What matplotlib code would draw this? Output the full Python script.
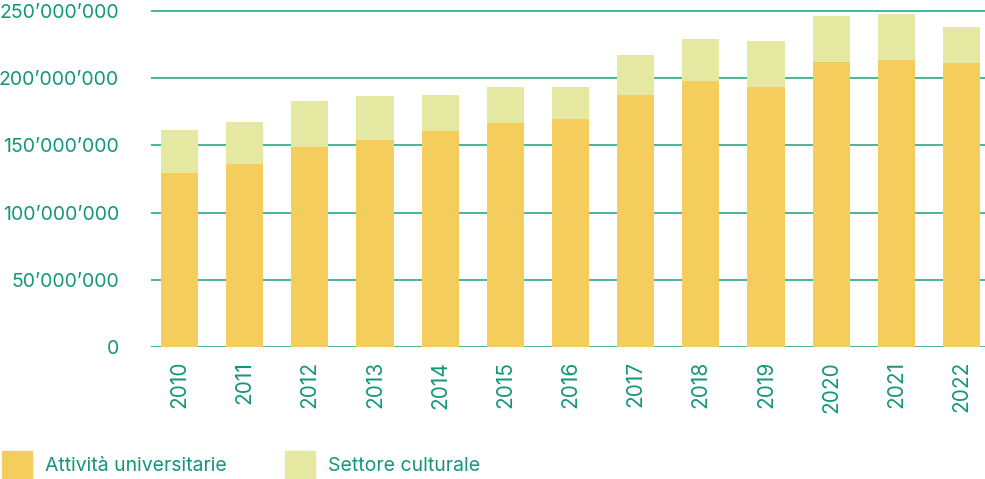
import matplotlib.pyplot as plt
import matplotlib.ticker as mticker
from matplotlib.patches import Rectangle

# Spese per anno (CHF)
anni = ["2010", "2011", "2012", "2013", "2014", "2015", "2016",
        "2017", "2018", "2019", "2020", "2021", "2022"]
universita = [129.5e6, 136.0e6, 148.8e6, 154.0e6, 160.7e6, 166.7e6, 169.6e6,
              187.5e6, 198.0e6, 193.5e6, 212.0e6, 213.5e6, 211.3e6]
cultura = [32.0e6, 31.4e6, 34.2e6, 32.8e6, 26.8e6, 26.8e6, 23.9e6,
           29.5e6, 31.0e6, 34.2e6, 34.3e6, 34.3e6, 26.7e6]

col_uni = "#F5CD5C"
col_cult = "#E5E8A0"
col_grid = "#3DAF94"
col_text = "#14967A"

plt.rcParams["font.family"] = ["Inter", "DejaVu Sans"]

fig = plt.figure(figsize=(9.85, 4.79), dpi=100)
ax = fig.add_axes([151 / 985, 132 / 479, 834 / 985, 339 / 479])

x = range(len(anni))
ax.bar(x, universita, width=0.57, color=col_uni, zorder=3)
ax.bar(x, cultura, width=0.57, bottom=universita, color=col_cult, zorder=3)

ax.set_xlim(-0.437, 12.36)
ax.set_ylim(0, 252.2e6)
ax.set_yticks(range(0, 250_000_001, 50_000_000))
ax.yaxis.set_major_formatter(
    mticker.FuncFormatter(lambda v, p: f"{int(v):,}".replace(",", "\u2019")))
ax.grid(axis="y", color=col_grid, linewidth=1.3, zorder=0)
ax.set_xticks(list(x))
ax.set_xticklabels(anni, rotation=90)

for s in ax.spines.values():
    s.set_visible(False)
ax.tick_params(axis="both", length=0, labelsize=14, labelcolor=col_text)
ax.tick_params(axis="y", pad=23)
ax.tick_params(axis="x", pad=10, labelsize=15)

# legenda in basso
for x0, testo, c in [(2, "Attività universitarie", col_uni),
                     (285, "Settore culturale", col_cult)]:
    fig.patches.append(Rectangle((x0 / 985, 0), 30 / 985, 28 / 479,
                                 transform=fig.transFigure, color=c))
    fig.text((x0 + 43) / 985, 13 / 479, testo, fontsize=14,
             color=col_text, va="center", ha="left")

fig.savefig("out.png", dpi=100)
